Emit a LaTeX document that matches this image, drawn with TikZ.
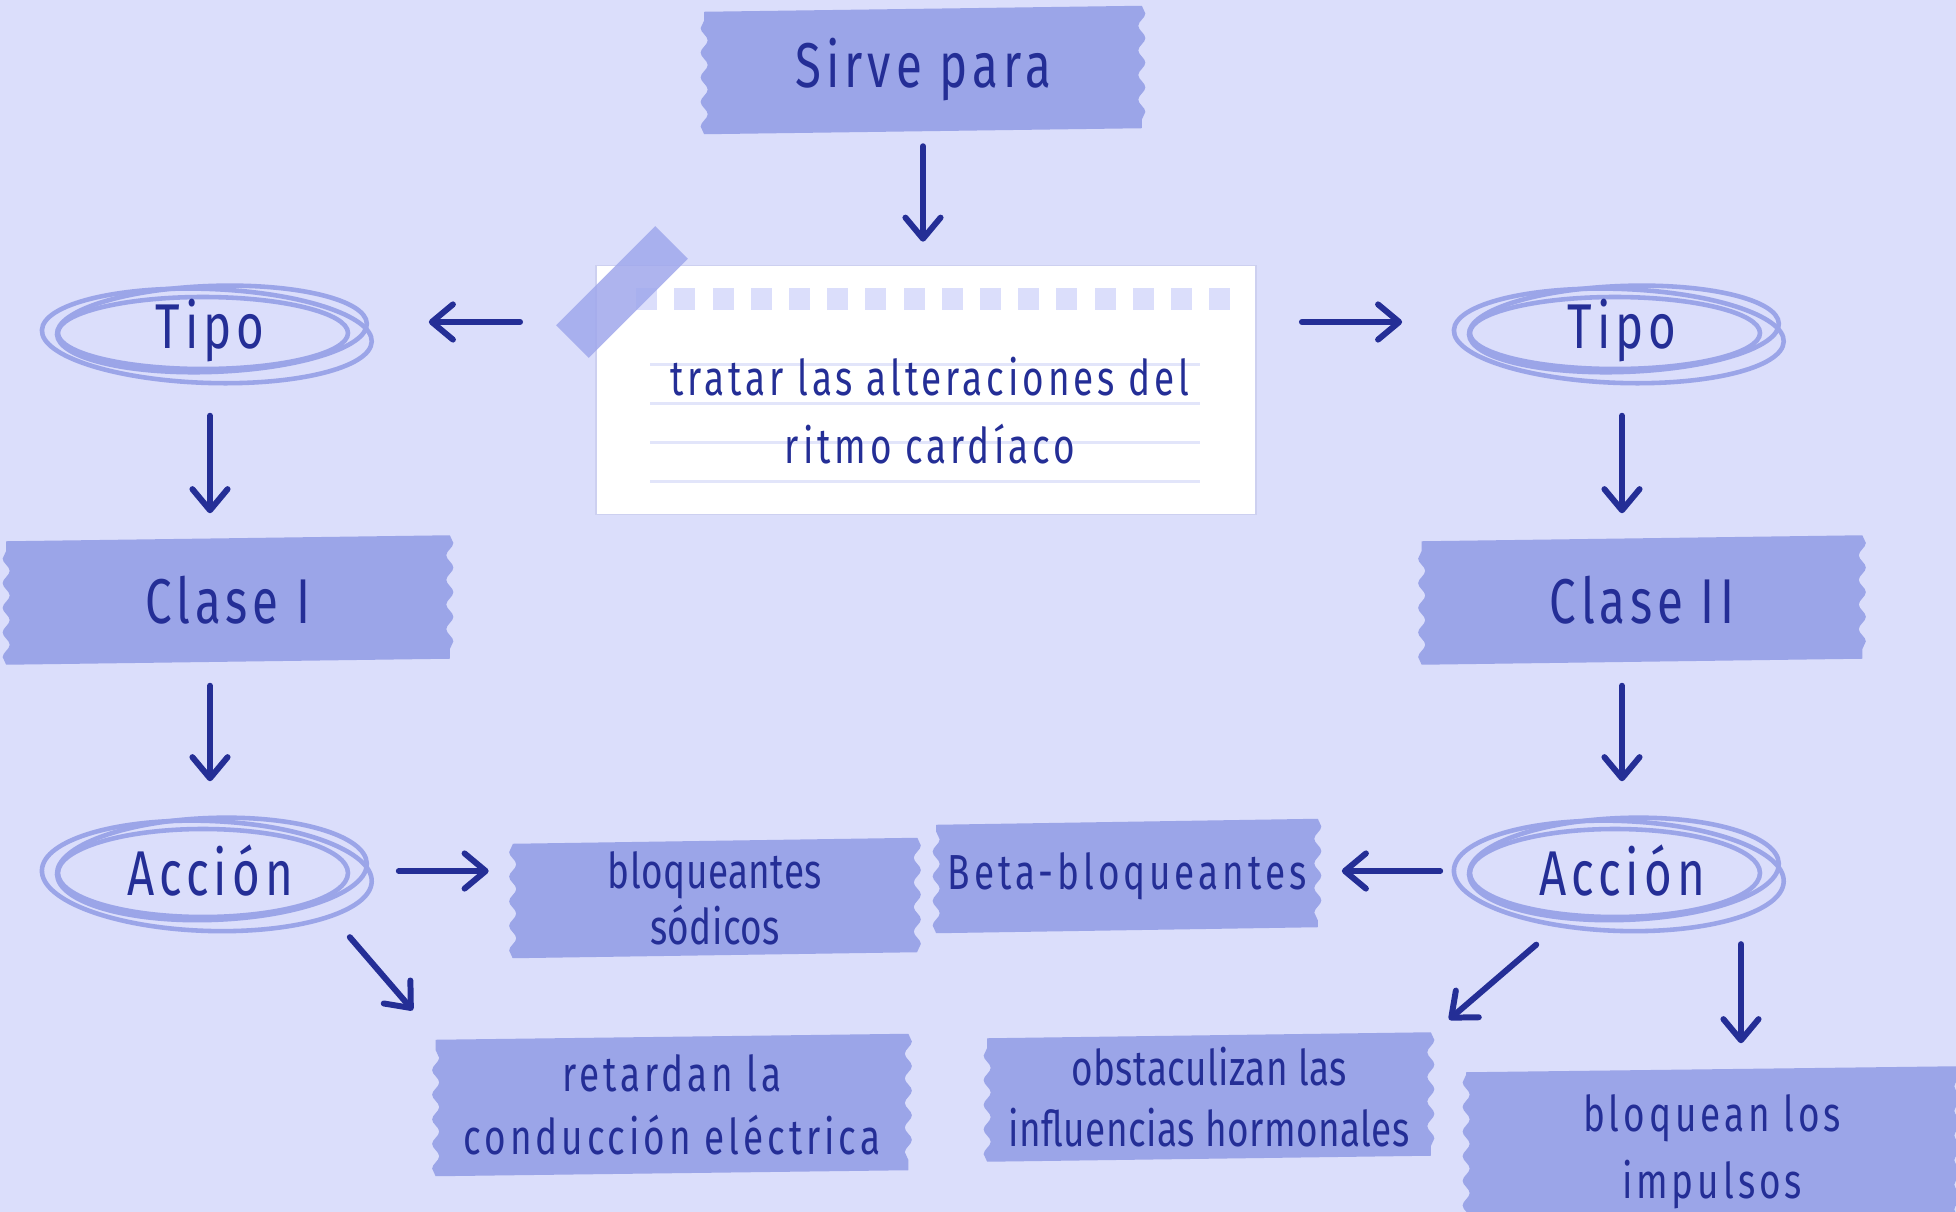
\documentclass[tikz,border=0pt]{standalone}
\usepackage{fontspec}
\setmainfont{Fira Sans}[FakeStretch=0.75, LetterSpace=8]
\usetikzlibrary{shapes.geometric, arrows.meta, positioning, calc, backgrounds, decorations.pathmorphing}

\definecolor{fondo}{RGB}{219,222,251}
\definecolor{cinta}{RGB}{155,165,232}
\definecolor{tinta}{RGB}{36,46,150}
\definecolor{renglon}{RGB}{226,229,250}
\definecolor{adhesivo}{RGB}{160,168,236}
\definecolor{borde}{RGB}{205,208,240}

\begin{document}
\begin{tikzpicture}[
    x=0.01cm, y=-0.01cm,
    % Define styles
    big/.style={font=\fontsize{18}{22}\selectfont},
    small/.style={font=\fontsize{14}{18}\selectfont},
    tight/.style={font=\fontsize{14}{#1}\selectfont\addfontfeature{LetterSpace=1}},
    banner/.style={rectangle, inner sep=0pt, text=tinta, align=center},
    oval/.style={ellipse, inner sep=0pt, minimum width=3.2cm, minimum height=1cm, text=tinta, big},
    paper/.style={rectangle, fill=white, draw=borde, line width=0.4pt, minimum width=6.6cm, minimum height=2.49cm},
    tapefill/.style={fill=cinta, decoration={snake, amplitude=1pt, segment length=7pt}},
    scrib/.style={draw=cinta, line width=1.3pt},
    rule/.style={draw=renglon, line width=0.8pt},
    arrow/.style={-{Straight Barb[length=6pt, width=10pt, round]}, draw=tinta, line width=1.7pt, line cap=round},
    ]

    \useasboundingbox (0,0) rectangle (1956,1212);

    % Main nodes
    \node[banner, big, minimum width=4.36cm, minimum height=1.21cm] (sirve) at (923,70) {Sirve para};
    \node[paper] (papel) at (926,390) {};
    \node[oval] (tipoL) at (210,331) {Tipo};
    \node[oval] (tipoR) at (1622,331) {Tipo};
    \node[banner, big, minimum width=4.42cm, minimum height=1.22cm] (clase1) at (228,600) {Clase I};
    \node[banner, big, minimum width=4.39cm, minimum height=1.22cm] (clase2) at (1642,600) {Clase II};
    \node[oval] (accionL) at (210,871) {Acción};
    \node[oval] (accionR) at (1622,871) {Acción};

    % Note paper: holes, lines and tape
    \foreach \i in {0,...,15}
        \fill[fondo] ($(papel.north west)+(41+38.2*\i,23)$) rectangle ++(21,22);
    \foreach \d in {100,139,178,217}
        \draw[rule] ($(papel.north west)+(55,\d)$) -- ++(550,0);
    \node[rectangle, fill=adhesivo, opacity=0.85, minimum width=1.40cm, minimum height=0.46cm, rotate=45] (adh) at (622,292) {};
    \node[small, text=tinta, align=center, font=\fontsize{14}{19.3}\selectfont] (nota) at (930,411) {tratar las alteraciones del\\ritmo cardíaco};

    % Result boxes
    \node[banner, tight=16, minimum width=4.03cm, minimum height=1.13cm] (sodicos) at (715,898) {bloqueantes\\sódicos};
    \node[banner, small, minimum width=3.80cm, minimum height=1.07cm] (beta) at (1127,876) {Beta-bloqueantes};
    \node[banner, small, minimum width=4.71cm, minimum height=1.35cm] (retardan) at (672,1105) {retardan la\\conducción eléctrica};
    \node[banner, tight=17.5, minimum width=4.42cm, minimum height=1.22cm] (obstac) at (1209,1097) {obstaculizan las\\influencias hormonales};
    \node[banner, small, font=\fontsize{14}{19}\selectfont, minimum width=4.9cm, minimum height=1.64cm] (impulsos) at (1712,1152) {bloquean los\\impulsos};

    % Banners and scribbled ovals (on background layer)
    \begin{scope}[on background layer]
        \fill[fondo] (0,0) rectangle (1956,1212);
        \foreach \n in {sirve,clase1,clase2,sodicos,beta,retardan,obstac,impulsos}
            \fill[tapefill] ([yshift=-0.03cm]\n.north west) -- ([yshift=0.03cm]\n.north east)
                decorate {-- ([yshift=0.03cm]\n.south east)} -- ([yshift=-0.03cm]\n.south west)
                decorate {-- ([yshift=-0.03cm]\n.north west)} -- cycle;
        \foreach \n/\h in {tipoL/0, tipoR/0, accionL/8, accionR/8} {
            \draw[scrib] ($(\n)+(-7,2)$) ellipse [x radius=145, y radius={36+\h}];
            \draw[scrib, rotate around={2:(\n)}] ($(\n)+(2,-2)$) ellipse [x radius=155, y radius={43+\h}];
            \draw[scrib, rotate around={-2:(\n)}] ($(\n)+(-3,5)$) ellipse [x radius=165, y radius={47+\h}];
        }
    \end{scope}

    % Arrows
    \draw[arrow, shorten <=0.15cm, shorten >=0.23cm] (sirve.south) -- (sirve.south |- papel.north);
    \draw[arrow, shorten <=0.75cm, shorten >=0.58cm] ([yshift=0.09cm]tipoL -| papel.west) -- ([yshift=0.09cm]tipoL.east);
    \draw[arrow, shorten <=0.45cm, shorten >=0.59cm] ([yshift=0.09cm]tipoR -| papel.east) -- ([yshift=0.09cm]tipoR.west);

    \draw[arrow, shorten <=0.34cm, shorten >=0.25cm] (tipoL.south) -- (tipoL.south |- clase1.north);
    \draw[arrow, shorten <=0.34cm, shorten >=0.25cm] (tipoR.south) -- (tipoR.south |- clase2.north);
    \draw[arrow, shorten <=0.24cm, shorten >=0.39cm] (accionL.north |- clase1.south) -- (accionL.north);
    \draw[arrow, shorten <=0.24cm, shorten >=0.39cm] (accionR.north |- clase2.south) -- (accionR.north);

    \draw[arrow, shorten <=0.28cm, shorten >=0.24cm] (accionL.east) -- (accionL -| sodicos.west);
    \draw[arrow, shorten <=0.21cm, shorten >=0.24cm] (accionR.west) -- (accionR -| beta.east);
    \draw[arrow, shorten <=0.40cm, shorten >=0.35cm] (accionL.south east) -- (retardan.north west);
    \draw[arrow, shorten <=1.13cm, shorten >=0.24cm] (accionR.center) -- (obstac.north east);
    \draw[arrow, shorten <=0.39cm, shorten >=0.26cm] (accionR.-16) -- (accionR.-16 |- impulsos.north);

\end{tikzpicture}
\end{document}
